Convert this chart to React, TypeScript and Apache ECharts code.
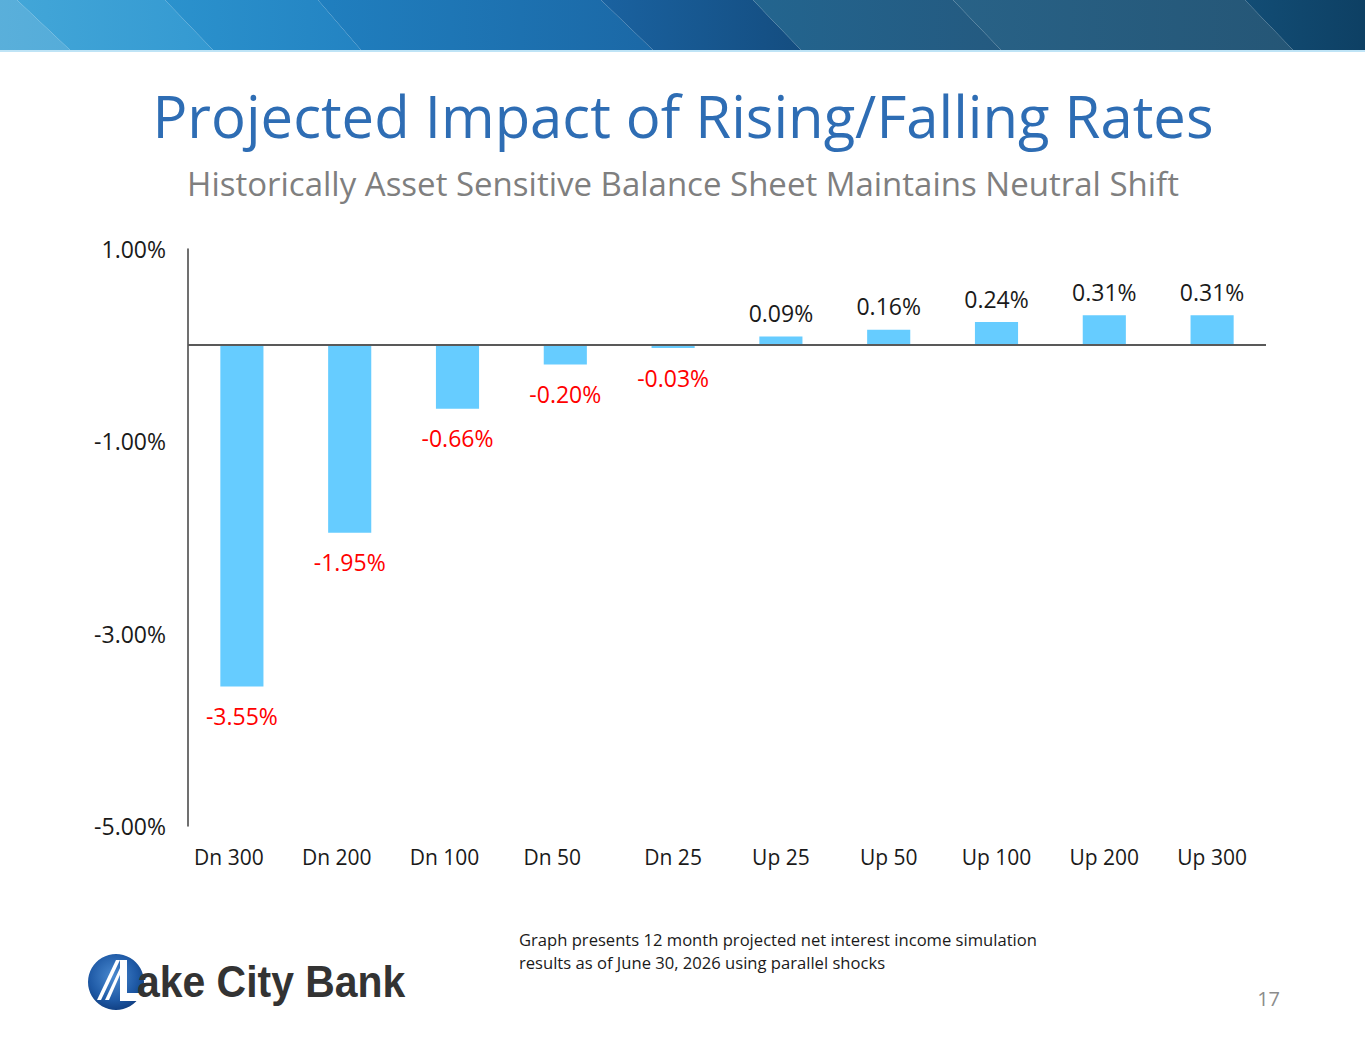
import React, { useEffect, useRef } from "react";
import * as echarts from "echarts";

const categories = ["Dn 300", "Dn 200", "Dn 100", "Dn 50", "Dn 25", "Up 25", "Up 50", "Up 100", "Up 200", "Up 300"];
const impactValues = [-3.55, -1.95, -0.66, -0.2, -0.03, 0.09, 0.16, 0.24, 0.31, 0.31];
const axisMin = -5;
const axisMax = 1;
const axisStep = 2;

const titleText = "Projected Impact of Rising/Falling Rates";
const subtitleText = "Historically Asset Sensitive Balance Sheet Maintains Neutral Shift";
const footnoteLines = [
  "Graph presents 12 month projected net interest income simulation",
  "results as of June 30, 2026 using parallel shocks",
];
const pageNumber = "17";

const FONT = "'Open Sans', Lato, sans-serif";

// banner stripe edges (top / bottom x) and colours
const stripeTop = [-60, 17, 165, 318, 601, 753, 953, 1245, 1420];
const stripeBottom = [-60, 70, 213, 361, 653, 801, 1001, 1293, 1420];
const stripeColors = [
  ["#5db2dc", "#55acd9"],
  ["#42a6d8", "#3499d1"],
  ["#2b92cd", "#2383c2"],
  ["#207fbf", "#1b68a6"],
  ["#1a62a0", "#144d80"],
  ["#23658f", "#245a80"],
  ["#286287", "#255676"],
  ["#124d75", "#0c3a5c"],
];

const App = () => {
  const chartRef = useRef<HTMLDivElement>(null);

  useEffect(() => {
    if (!chartRef.current) return;
    const myChart = echarts.init(chartRef.current, null, { renderer: "svg" });

    const stripes = stripeColors.map((c, i) => ({
      type: "polygon",
      silent: true,
      shape: {
        points: [
          [stripeTop[i], 0],
          [stripeTop[i + 1], 0],
          [stripeBottom[i + 1], 50],
          [stripeBottom[i], 50],
        ],
      },
      style: {
        fill: new echarts.graphic.LinearGradient(0, 0, 1, 0, [
          { offset: 0, color: c[0] },
          { offset: 1, color: c[1] },
        ]),
      },
    }));

    const option = {
      animation: false,
      backgroundColor: "#ffffff",
      grid: { left: 188, right: 99, top: 249, bottom: 221 },
      xAxis: {
        type: "category",
        data: categories,
        axisLine: { show: false, onZero: false },
        axisTick: { show: false },
        axisLabel: {
          interval: 0,
          hideOverlap: false,
          color: "#1a1a1a",
          fontSize: 21,
          fontFamily: FONT,
          margin: 20,
          // the first four labels sit a little left of their bars in the original
          formatter: (v: string, i: number) => (i < 4 ? `{l|${v}}` : v),
          rich: {
            l: { fontSize: 21, fontFamily: FONT, color: "#1a1a1a", padding: [0, 26, 0, 0] },
          },
        },
      },
      yAxis: {
        type: "value",
        min: axisMin,
        max: axisMax,
        interval: axisStep,
        axisLine: { show: true, lineStyle: { color: "#404040", width: 1.5 } },
        axisTick: { show: false },
        splitLine: { show: false },
        axisLabel: {
          color: "#1a1a1a",
          fontSize: 23,
          fontFamily: FONT,
          margin: 22,
          formatter: (v: number) => v.toFixed(2) + "%",
        },
      },
      series: [
        {
          type: "bar",
          barWidth: "40%",
          itemStyle: { color: "#66ccff" },
          data: impactValues.map((v) => ({
            value: v,
            label: {
              show: true,
              position: v < 0 ? "bottom" : "top",
              distance: v < 0 ? 18 : 12,
              color: v < 0 ? "#ff0000" : "#1a1a1a",
              fontSize: 23,
              fontFamily: FONT,
              formatter: (p: any) => p.value.toFixed(2) + "%",
            },
          })),
          markLine: {
            silent: true,
            symbol: ["none", "none"],
            label: { show: false },
            lineStyle: { color: "#595959", width: 2, type: "solid" },
            data: [{ yAxis: 0 }],
          },
        },
      ],
      graphic: [
        ...stripes,
        {
          type: "rect",
          silent: true,
          shape: { x: 0, y: 50, width: 1365, height: 2 },
          style: { fill: "#bfe4f6" },
        },
        {
          type: "text",
          x: 683,
          y: 115,
          style: {
            text: titleText,
            font: `58px ${FONT}`,
            fill: "#2e6db4",
            textAlign: "center",
            textVerticalAlign: "middle",
          },
        },
        {
          type: "text",
          x: 683,
          y: 183,
          style: {
            text: subtitleText,
            font: `33px ${FONT}`,
            fill: "#7f7f7f",
            textAlign: "center",
            textVerticalAlign: "middle",
          },
        },
        ...footnoteLines.map((t, i) => ({
          type: "text",
          x: 519,
          y: 939 + i * 23,
          style: {
            text: t,
            font: `16.6px ${FONT}`,
            fill: "#1a1a1a",
            textAlign: "left",
            textVerticalAlign: "middle",
          },
        })),
        {
          type: "text",
          x: 1280,
          y: 998,
          style: {
            text: pageNumber,
            font: `20px ${FONT}`,
            fill: "#8c8c8c",
            textAlign: "right",
            textVerticalAlign: "middle",
          },
        },
        // logo
        {
          type: "circle",
          shape: { cx: 116, cy: 982, r: 28 },
          style: {
            fill: new echarts.graphic.RadialGradient(0.45, 0.4, 0.7, [
              { offset: 0, color: "#4a8ad0" },
              { offset: 0.6, color: "#1f5aa6" },
              { offset: 1, color: "#0b3473" },
            ]),
          },
        },
        {
          type: "polygon",
          shape: { points: [[97, 1000], [116, 960], [120, 960], [101, 1000]] },
          style: { fill: "#ffffff" },
        },
        {
          type: "polygon",
          shape: { points: [[105, 1000], [120, 968], [123, 968], [109, 1000]] },
          style: { fill: "#ffffff" },
        },
        {
          type: "polygon",
          shape: { points: [[120, 960], [127, 960], [127, 993], [143, 993], [143, 1001], [120, 1001]] },
          style: { fill: "#ffffff" },
        },
        {
          type: "text",
          x: 137,
          y: 982,
          scaleX: 0.93,
          style: {
            text: "ake City Bank",
            font: "bold 44px 'Liberation Sans', Arial, sans-serif",
            fill: "#333333",
            textAlign: "left",
            textVerticalAlign: "middle",
          },
        },
      ],
    };

    myChart.setOption(option as any);

    const handleResize = () => myChart.resize();
    window.addEventListener("resize", handleResize);
    return () => {
      window.removeEventListener("resize", handleResize);
      myChart.dispose();
    };
  }, []);

  return (
    <div
      ref={chartRef}
      style={{ position: "fixed", left: 0, top: 0, width: 1365, height: 1047 }}
    />
  );
};

export default App;
